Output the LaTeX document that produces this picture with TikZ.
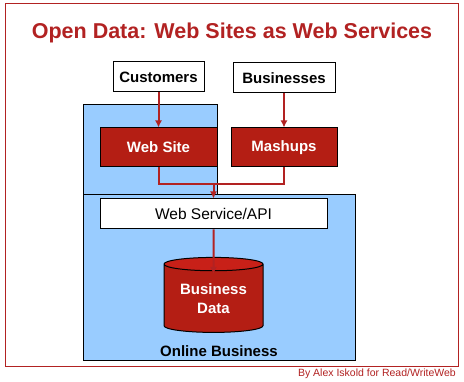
\documentclass[tikz,border=0pt]{standalone}
\usepackage{fontspec}
\setmainfont{Liberation Sans}
\usepackage{xcolor}
\usetikzlibrary{calc, positioning, shapes.geometric, arrows.meta}
\definecolor{titlered}{RGB}{178,34,34}
\definecolor{boxred}{RGB}{180,30,20}
\definecolor{drumtop}{RGB}{200,32,24}
\definecolor{zoneblue}{RGB}{153,204,255}

\begin{document}
\begin{tikzpicture}[>={Latex[width=7pt,length=7pt]}, x=1pt, y=-1pt]

        % --- Définition des styles ---
        \tikzset{
            titletext/.style={text=titlered, font=\fontsize{21.5}{24}\selectfont\bfseries},
            plainbox/.style={draw=black, line width=1pt, fill=white, inner sep=0pt, font=\fontsize{15}{17}\selectfont\bfseries},
            redbox/.style={draw=black, line width=1pt, fill=boxred, text=white, inner sep=0pt, font=\fontsize{15}{17}\selectfont\bfseries},
            zone/.style={draw=black, line width=1pt, fill=zoneblue},
            % Styles des connecteurs
            flow/.style={->, line width=2pt, titlered},
            link/.style={line width=2pt, titlered}
        }

        % --- Cadre et fond ---
        \useasboundingbox (0,0) rectangle (464,382);
        \fill[white] (0,0) rectangle (464,382);
        \draw[titlered, line width=1pt] (5,4) rectangle (458,367);

        % --- Titre ---
        \node[titletext] (title) at (232,33) {Open Data: Web Sites as Web Services};

        % --- Zones bleues ---
        \draw[zone] (83,105) rectangle (217,195);
        \draw[zone] (83,195) rectangle (355,361);

        % --- Acteurs (en haut) ---
        \node[plainbox, minimum width=91, minimum height=30] (cust) at (158.5,77) {Customers};
        \node[plainbox, minimum width=102, minimum height=30] (biz) at (284,78) {Businesses};

        % --- Couche web ---
        \node[redbox, minimum width=117, minimum height=39] (site) at (158.5,147.5) {Web Site};
        \node[redbox, minimum width=106, minimum height=39] (mash) at (284,147.5) {Mashups};

        % --- Service et données ---
        \node[plainbox, font=\fontsize{15.5}{17}\selectfont, minimum width=227, minimum height=30] (api) at (213.5,214) {Web Service/API};
        \node[cylinder, shape border rotate=90, aspect=0.2, draw=black, line width=1pt,
              cylinder uses custom fill, cylinder body fill=boxred, cylinder end fill=drumtop,
              minimum width=99, minimum height=75, inner sep=0pt, align=center, text=white,
              font=\fontsize{15}{19}\selectfont\bfseries] (data) at (213.5,298.5) {Business\\Data};
        \node[font=\fontsize{15}{17}\selectfont\bfseries] (online) at (219,351) {Online Business};

        % --- Crédit ---
        \node[anchor=east, text=titlered, font=\fontsize{10.5}{12}\selectfont, inner sep=0pt] (credit) at (456,374) {By Alex Iskold for Read/WriteWeb};

        % --- Connecteurs ---
        \coordinate (merge) at (213.5,184);
        \draw[flow] (cust) -- (site);
        \draw[flow] (biz) -- (mash);
        \draw[link] (site.south) -- (site.south |- merge) -- (mash.south |- merge) -- (mash.south);
        \draw[flow] (merge) -- (api.north);
        \draw[flow] (api.south) -- ($(data.north)+(0,17)$);

    \end{tikzpicture}
\end{document}
